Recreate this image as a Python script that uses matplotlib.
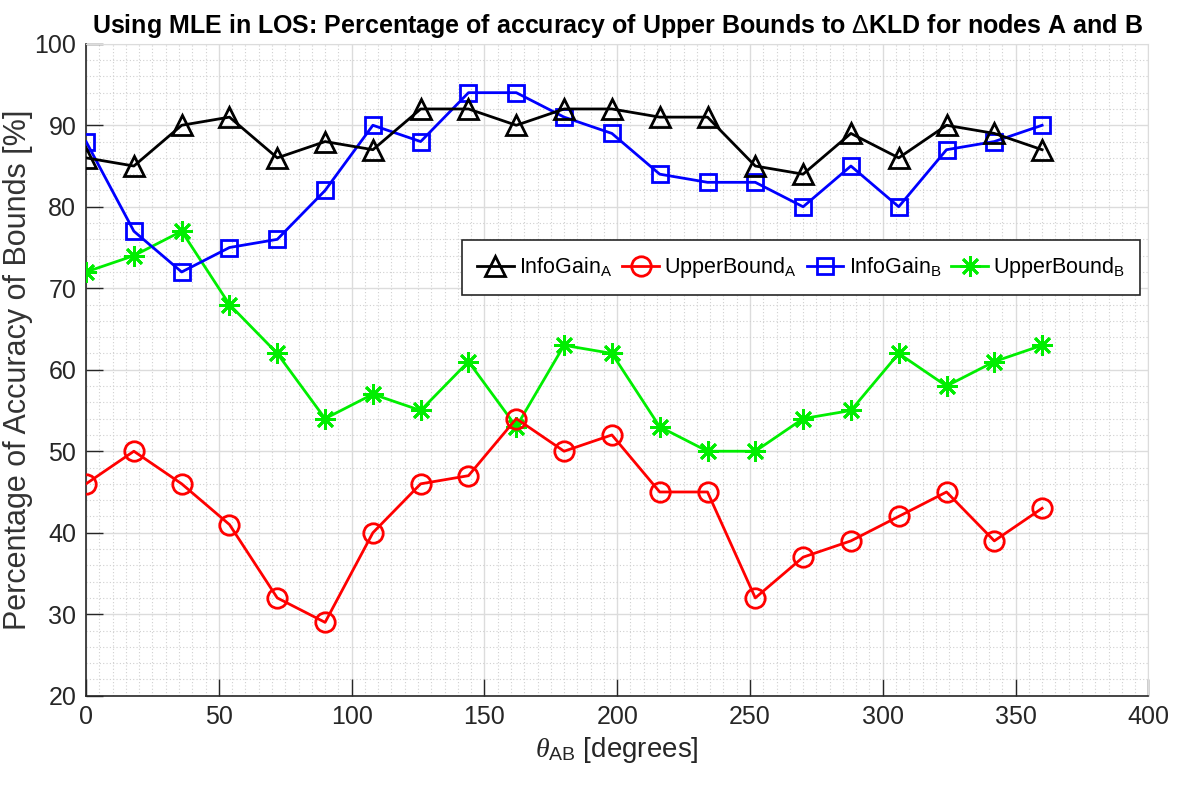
import matplotlib
matplotlib.use("Agg")
import matplotlib.pyplot as plt
from matplotlib.ticker import MultipleLocator

plt.rcParams["font.family"] = ["Liberation Sans", "DejaVu Sans"]
plt.rcParams["mathtext.fontset"] = "custom"
plt.rcParams["mathtext.rm"] = "Liberation Sans"
plt.rcParams["mathtext.it"] = "Liberation Serif:italic"

theta = [0, 18, 36, 54, 72, 90, 108, 126, 144, 162, 180,
         198, 216, 234, 252, 270, 288, 306, 324, 342, 360]
info_gain_a = [86, 85, 90, 91, 86, 88, 87, 92, 92, 90, 92,
               92, 91, 91, 85, 84, 89, 86, 90, 89, 87]
upper_bound_a = [46, 50, 46, 41, 32, 29, 40, 46, 47, 54, 50,
                 52, 45, 45, 32, 37, 39, 42, 45, 39, 43]
info_gain_b = [88, 77, 72, 75, 76, 82, 90, 88, 94, 94, 91,
               89, 84, 83, 83, 80, 85, 80, 87, 88, 90]
upper_bound_b = [72, 74, 77, 68, 62, 54, 57, 55, 61, 53, 63,
                 62, 53, 50, 50, 54, 55, 62, 58, 61, 63]

fig = plt.figure(figsize=(11.79, 7.96), dpi=100)
ax = fig.add_axes([0.073, 0.126, 0.901, 0.819])

lw = 2.0
ax.plot(theta, info_gain_a, color="black", lw=lw, marker="^", ms=15,
        mfc="none", mew=2, label=r"InfoGain$_{\mathrm{A}}$", zorder=5)
ax.plot(theta, upper_bound_a, color="#ff0000", lw=lw, marker="o", ms=14,
        mfc="none", mew=2, label=r"UpperBound$_{\mathrm{A}}$", zorder=4)
ax.plot(theta, info_gain_b, color="#0000ff", lw=lw, marker="s", ms=12,
        mfc="none", mew=2, label=r"InfoGain$_{\mathrm{B}}$", zorder=4)
ax.plot(theta, upper_bound_b, color="#00ee00", lw=lw, marker=(8, 2, 0), ms=15,
        mew=2, label=r"UpperBound$_{\mathrm{B}}$", zorder=3)

ax.set_xlim(0, 400)
ax.set_ylim(20, 100)
ax.xaxis.set_major_locator(MultipleLocator(50))
ax.xaxis.set_minor_locator(MultipleLocator(5))
ax.yaxis.set_major_locator(MultipleLocator(10))
ax.yaxis.set_minor_locator(MultipleLocator(2))

ax.grid(which="major", color="#dcdcdc", lw=1.0, ls="-")
ax.grid(which="minor", color="#d0d0d0", lw=0.8, ls=(0, (1, 2)))
ax.set_axisbelow(True)

ax.tick_params(which="major", direction="in", length=12, width=1,
               labelsize=18, colors="#262626", pad=7, top=False, right=False)
ax.tick_params(which="minor", length=0)
for s in ("left", "bottom"):
    ax.spines[s].set_color("#262626")
    ax.spines[s].set_linewidth(1.2)
for s in ("top", "right"):
    ax.spines[s].set_color("#dcdcdc")

ax.set_title(r"Using MLE in LOS: Percentage of accuracy of Upper Bounds to $\Delta$KLD for nodes A and B",
             fontsize=18, fontweight="bold", pad=8)
ax.set_ylabel("Percentage of Accuracy of Bounds [%]", fontsize=22,
              color="#333333")
ax.yaxis.set_label_coords(-0.050, 0.5)
ax.set_xlabel(r"$\it{\theta}_{\mathrm{AB}}$ [degrees]", fontsize=20,
              color="#262626", labelpad=4)

leg = ax.legend(loc="upper left", bbox_to_anchor=(0.354, 0.699), ncol=4,
                fontsize=15.5, frameon=True, fancybox=False, edgecolor="#262626",
                handlelength=1.7, handletextpad=0.25, columnspacing=0.45,
                borderpad=0.7, borderaxespad=0, framealpha=1)
leg.get_frame().set_linewidth(1.2)

fig.savefig("out.png", dpi=100)
